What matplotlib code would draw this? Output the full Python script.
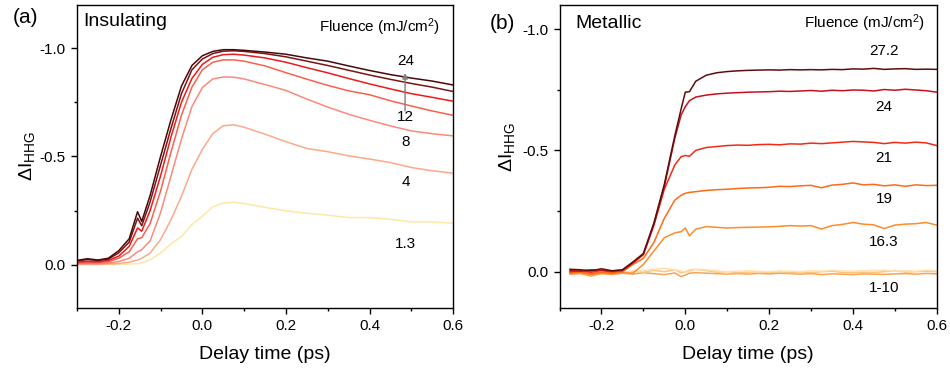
"""
Transient HHG intensity change vs delay time
(a) insulating phase, (b) metallic phase, for several pump fluences.
"""

import matplotlib
matplotlib.use("Agg")
import matplotlib.pyplot as plt
from matplotlib.ticker import MultipleLocator

plt.rcParams["font.family"] = ["Liberation Sans", "DejaVu Sans"]
plt.rcParams["mathtext.fontset"] = "custom"
plt.rcParams["mathtext.rm"] = "Liberation Sans"
plt.rcParams["mathtext.it"] = "Liberation Sans:italic"
plt.rcParams["axes.unicode_minus"] = False

# ── Panel (a): insulating ────────────────────────────────────────────────────
XA = [-0.3, -0.275, -0.25, -0.225, -0.2, -0.175, -0.155, -0.145, -0.125, -0.1,
      -0.075, -0.05, -0.025, 0.0, 0.025, 0.05, 0.075, 0.1, 0.15, 0.2,
      0.25, 0.3, 0.35, 0.4, 0.45, 0.5, 0.55, 0.6]

A_F1_3 = [0.0, -0.001, 0.0, -0.001, -0.002, -0.003, -0.005, -0.008, -0.023, -0.054,
          -0.097, -0.13, -0.185, -0.224, -0.268, -0.285, -0.288, -0.283, -0.265, -0.249,
          -0.238, -0.229, -0.218, -0.218, -0.21, -0.198, -0.198, -0.192]
A_F4 = [-0.002, -0.003, -0.002, -0.004, -0.006, -0.012, -0.022, -0.03, -0.054, -0.116,
        -0.208, -0.316, -0.44, -0.532, -0.606, -0.642, -0.646, -0.635, -0.603, -0.568,
        -0.537, -0.522, -0.503, -0.488, -0.472, -0.449, -0.434, -0.423]
A_F8 = [-0.004, -0.006, -0.005, -0.008, -0.015, -0.03, -0.06, -0.07, -0.11, -0.24,
        -0.41, -0.58, -0.73, -0.818, -0.858, -0.867, -0.866, -0.858, -0.832, -0.805,
        -0.765, -0.728, -0.695, -0.667, -0.641, -0.618, -0.605, -0.595]
A_F12 = [-0.008, -0.01, -0.01, -0.014, -0.03, -0.06, -0.12, -0.125, -0.19, -0.34,
         -0.52, -0.69, -0.82, -0.9, -0.935, -0.946, -0.946, -0.94, -0.918, -0.887,
         -0.857, -0.828, -0.803, -0.785, -0.757, -0.733, -0.71, -0.69]
A_F16 = [-0.012, -0.016, -0.014, -0.02, -0.04, -0.085, -0.17, -0.155, -0.25, -0.41,
         -0.59, -0.75, -0.86, -0.925, -0.958, -0.97, -0.972, -0.968, -0.955, -0.935,
         -0.91, -0.886, -0.86, -0.835, -0.812, -0.79, -0.773, -0.755]
A_F20 = [-0.018, -0.024, -0.02, -0.026, -0.055, -0.105, -0.215, -0.18, -0.29, -0.46,
         -0.63, -0.79, -0.9, -0.95, -0.975, -0.986, -0.988, -0.985, -0.975, -0.96,
         -0.94, -0.92, -0.898, -0.876, -0.856, -0.837, -0.82, -0.80]
A_F24 = [-0.02, -0.028, -0.022, -0.03, -0.065, -0.12, -0.245, -0.2, -0.32, -0.5,
         -0.67, -0.825, -0.92, -0.965, -0.985, -0.993, -0.993, -0.99, -0.982, -0.972,
         -0.955, -0.94, -0.918, -0.897, -0.878, -0.862, -0.848, -0.83]

A_CURVES = [A_F1_3, A_F4, A_F8, A_F12, A_F16, A_F20, A_F24]
A_COLORS = ["#fee8a6", "#fca98a", "#fb8a7a", "#f7614f", "#ee1a1a", "#7a1414", "#4a0808"]
A_LABELS = ["24", "12", "8", "4", "1.3"]
A_LABEL_Y = [-0.94, -0.68, -0.565, -0.38, -0.097]

# ── Panel (b): metallic ──────────────────────────────────────────────────────
XB = [-0.275, -0.25, -0.225, -0.2, -0.175, -0.15, -0.125, -0.1, -0.075, -0.05,
      -0.025, -0.01, 0.0, 0.01, 0.025, 0.05, 0.075, 0.1, 0.125, 0.15,
      0.175, 0.2, 0.225, 0.25, 0.275, 0.3, 0.325, 0.35, 0.375, 0.4,
      0.425, 0.45, 0.475, 0.5, 0.525, 0.55, 0.575, 0.6]

B_LOW1 = [0.01, 0.008, 0.018, 0.008, 0.012, 0.006, 0.01, 0.004, 0.008, 0.012,
          0.005, 0.02, 0.014, 0.006, 0.004, 0.006, 0.008, 0.01, 0.008, 0.01,
          0.007, 0.009, 0.006, 0.008, 0.01, 0.008, 0.012, 0.009, 0.01, 0.012,
          0.009, 0.01, 0.011, 0.009, 0.008, 0.01, 0.007, 0.009]
B_LOW2 = [0.004, 0.0, 0.006, 0.002, 0.0, 0.004, -0.002, 0.002, -0.006, 0.0,
          -0.008, 0.004, 0.0, -0.006, -0.01, -0.004, 0.002, 0.0, 0.004, 0.002,
          0.0, 0.003, 0.0, 0.004, 0.002, 0.004, 0.0, -0.002, 0.003, 0.004,
          0.002, 0.003, 0.0, -0.004, 0.002, 0.0, -0.002, 0.0]
B_LOW3 = [0.0, 0.004, -0.004, 0.002, 0.006, 0.0, 0.002, -0.006, -0.01, -0.014,
          -0.008, -0.004, 0.002, 0.0, -0.01, -0.008, -0.004, 0.0, -0.002, -0.004,
          -0.002, 0.0, -0.003, -0.002, 0.0, -0.004, -0.002, -0.006, -0.003, -0.002,
          -0.004, -0.005, -0.006, -0.002, -0.004, -0.002, -0.006, -0.004]
B_F16_3 = [0.008, 0.004, 0.012, 0.005, 0.008, 0.004, 0.006, -0.03, -0.085, -0.14,
           -0.16, -0.165, -0.18, -0.148, -0.175, -0.186, -0.183, -0.18, -0.182, -0.183,
           -0.184, -0.185, -0.187, -0.19, -0.188, -0.19, -0.176, -0.19, -0.195, -0.203,
           -0.196, -0.193, -0.178, -0.192, -0.196, -0.198, -0.203, -0.192]
B_F19 = [0.005, 0.002, 0.008, 0.002, 0.005, 0.0, -0.03, -0.055, -0.12, -0.22,
         -0.295, -0.315, -0.323, -0.327, -0.33, -0.335, -0.338, -0.34, -0.343, -0.345,
         -0.346, -0.348, -0.352, -0.351, -0.354, -0.356, -0.346, -0.357, -0.36, -0.366,
         -0.358, -0.36, -0.354, -0.358, -0.352, -0.358, -0.355, -0.356]
B_F21 = [0.0, -0.004, 0.002, -0.005, 0.0, -0.004, -0.035, -0.07, -0.19, -0.34,
         -0.44, -0.474, -0.479, -0.476, -0.5, -0.512, -0.516, -0.52, -0.522, -0.521,
         -0.524, -0.525, -0.523, -0.527, -0.526, -0.53, -0.528, -0.531, -0.534, -0.537,
         -0.535, -0.533, -0.528, -0.533, -0.53, -0.534, -0.531, -0.52]
B_F24 = [-0.005, -0.002, -0.008, -0.006, -0.003, -0.006, -0.038, -0.072, -0.195, -0.35,
         -0.55, -0.645, -0.68, -0.705, -0.72, -0.728, -0.733, -0.736, -0.738, -0.74,
         -0.741, -0.742, -0.744, -0.743, -0.745, -0.747, -0.744, -0.748, -0.746, -0.749,
         -0.748, -0.745, -0.751, -0.748, -0.752, -0.749, -0.746, -0.74]
B_F27_2 = [-0.01, -0.008, -0.004, -0.012, -0.004, -0.008, -0.04, -0.075, -0.2, -0.36,
           -0.56, -0.67, -0.74, -0.742, -0.785, -0.81, -0.82, -0.825, -0.828, -0.83,
           -0.831, -0.832, -0.831, -0.833, -0.832, -0.833, -0.832, -0.834, -0.833, -0.836,
           -0.835, -0.838, -0.834, -0.836, -0.837, -0.834, -0.835, -0.834]

B_CURVES = [B_LOW1, B_LOW2, B_LOW3, B_F16_3, B_F19, B_F21, B_F24, B_F27_2]
B_COLORS = ["#f6a455", "#ffc47e", "#ffe0b2", "#ff8c28", "#ff6a14", "#f22a14", "#c8101e", "#5c0e0e"]
B_LABELS = ["27.2", "24", "21", "19", "16.3", "1-10"]
B_LABEL_Y = [-0.909, -0.679, -0.469, -0.30, -0.123, 0.066]

TICK_FS = 11
LABEL_FS = 14


def style_axis(ax, ylim):
    ax.set_xlim(-0.3, 0.6)
    ax.set_ylim(*ylim)
    ax.xaxis.set_major_locator(MultipleLocator(0.2))
    ax.xaxis.set_minor_locator(MultipleLocator(0.1))
    ax.yaxis.set_major_locator(MultipleLocator(0.5))
    ax.yaxis.set_minor_locator(MultipleLocator(0.25))
    ax.xaxis.set_major_formatter(plt.FuncFormatter(lambda v, p: f"{v:.1f}"))
    ax.yaxis.set_major_formatter(plt.FuncFormatter(lambda v, p: f"{v:.1f}"))
    ax.tick_params(which="major", direction="out", length=4, width=1, labelsize=TICK_FS, pad=4)
    ax.tick_params(which="minor", direction="out", length=2.5, width=1)
    for s in ax.spines.values():
        s.set_linewidth(1.0)
    ax.set_xlabel("Delay time (ps)", fontsize=LABEL_FS)
    ax.set_ylabel(r"ΔI$_{\mathrm{HHG}}$", fontsize=LABEL_FS)
    ax.xaxis.set_label_coords(0.5, -0.125)


fig = plt.figure(figsize=(9.5, 3.73), dpi=100)
ax1 = fig.add_axes([0.081, 0.174, 0.396, 0.813])
ax2 = fig.add_axes([0.589, 0.174, 0.397, 0.813])

# (a)
for y, c in zip(A_CURVES, A_COLORS):
    ax1.plot(XA, y, color=c, lw=1.1)
style_axis(ax1, (0.2, -1.2))
ax1.yaxis.set_label_coords(-0.106, 0.5)
ax1.text(0.016, 0.944, "Insulating", transform=ax1.transAxes, fontsize=14, va="center")
ax1.text(0.965, 0.925, r"Fluence (mJ/cm$^2$)", transform=ax1.transAxes,
         fontsize=11, ha="right", va="center")
for lab, yv in zip(A_LABELS, A_LABEL_Y):
    ax1.text(0.486, yv, lab, fontsize=11, ha="center", va="center")
ax1.annotate("", xy=(0.485, -0.885), xytext=(0.485, -0.71),
             arrowprops=dict(arrowstyle="-|>", color="#808080", lw=1.0,
                             mutation_scale=8, shrinkA=0, shrinkB=0))

# (b)
for y, c in zip(B_CURVES, B_COLORS):
    ax2.plot(XB, y, color=c, lw=1.1)
style_axis(ax2, (0.15, -1.1))
ax2.yaxis.set_label_coords(-0.114, 0.53)
ax2.text(0.042, 0.94, "Metallic", transform=ax2.transAxes, fontsize=14, va="center")
ax2.text(0.968, 0.938, r"Fluence (mJ/cm$^2$)", transform=ax2.transAxes,
         fontsize=11, ha="right", va="center")
for lab, yv in zip(B_LABELS, B_LABEL_Y):
    ax2.text(0.474, yv, lab, fontsize=11, ha="center", va="center")

fig.text(0.013, 0.952, "(a)", fontsize=15, va="center")
fig.text(0.516, 0.938, "(b)", fontsize=15, va="center")

fig.savefig("out.png", dpi=100)
